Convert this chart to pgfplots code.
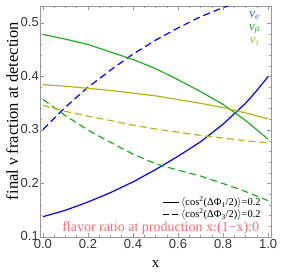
\documentclass[border=0pt]{standalone}
\usepackage{fontspec}
\setmainfont{Liberation Serif}
\newfontfamily\ticksf{Liberation Sans}
\usepackage{pgfplots}
\pgfplotsset{compat=1.18}
\definecolor{cblue}{rgb}{0,0,1}
\definecolor{cgreen}{rgb}{0.13,0.68,0.13}
\definecolor{cyel}{rgb}{0.72,0.70,0.10}
\definecolor{cred}{rgb}{1,0.42,0.42}
\definecolor{cframe}{gray}{0.6}
\definecolor{lblue}{rgb}{0.25,0.35,1}
\begin{document}
\begin{tikzpicture}
\useasboundingbox (-40pt,-41pt) rectangle (246pt,237pt);
\begin{axis}[
  at={(0,0)}, anchor=south west,
  scale only axis, width=231pt, height=231pt,
  xmin=-0.013, xmax=1.013, ymin=0.1, ymax=0.532,
  axis line style={cframe, line width=0.6pt},
  every tick/.style={cframe, line width=0.5pt},
  tick align=inside,
  major tick length=4pt, minor tick length=2pt,
  xtick={0,0.2,0.4,0.6,0.8,1},
  xticklabels={0.0,0.2,0.4,0.6,0.8,1.0},
  minor x tick num=3,
  ytick={0.1,0.2,0.3,0.4,0.5},
  yticklabels={0.1,0.2,0.3,0.4,0.5},
  minor y tick num=4,
  /pgf/number format/assume math mode=true,
  ticklabel style={font=\ticksf\fontsize{13}{13}\selectfont, text=black!80},
  yticklabel style={inner sep=0.5pt, xshift=-0.5pt, yshift=1pt},
  xticklabel style={inner sep=0.5pt, yshift=-2pt},
  xlabel={x},
  ylabel={final ν fraction at detection},
  xlabel style={font=\fontsize{15}{15}\selectfont, at={(axis description cs:0.5,-0.117)}, anchor=center},
  ylabel style={font=\fontsize{16.5}{16.5}\selectfont, at={(axis description cs:-0.121,0.545)}, anchor=center},
  clip=true,
  legend style={at={(axis description cs:0.965,0.125)}, anchor=east, draw=none, fill=none,
    font=\fontsize{10.5}{10.5}\selectfont, inner sep=0pt, row sep=-2.5pt},
  legend cell align=left,
  legend image code/.code={\draw[#1, line width=1pt] (0cm,0cm) -- (0.55cm,0cm);},
]
% nu_e solid
\addplot[cblue, line width=1.2pt, forget plot] coordinates {
(0,0.138) (0.1,0.150) (0.2,0.1655) (0.3,0.183) (0.4,0.203) (0.5,0.226) (0.6,0.251)
(0.7,0.278) (0.8,0.311) (0.9,0.350) (0.95,0.374) (1.0,0.400)};
% nu_e dashed
\addplot[cblue, line width=1.2pt, dash pattern=on 7pt off 4pt, forget plot] coordinates {
(0,0.301) (0.1,0.343) (0.2,0.380) (0.3,0.412) (0.4,0.442) (0.5,0.468) (0.6,0.491)
(0.7,0.512) (0.8,0.529) (0.86,0.538)};
% nu_mu solid
\addplot[cgreen, line width=1.2pt, forget plot] coordinates {
(0,0.479) (0.1,0.470) (0.2,0.460) (0.3,0.446) (0.4,0.432) (0.5,0.415) (0.6,0.394)
(0.7,0.372) (0.8,0.348) (0.9,0.318) (1.0,0.283)};
% nu_mu dashed
\addplot[cgreen, line width=1.2pt, dash pattern=on 7pt off 4pt, forget plot] coordinates {
(0,0.357) (0.1,0.327) (0.2,0.300) (0.3,0.277) (0.4,0.255) (0.5,0.237) (0.6,0.225)
(0.7,0.214) (0.8,0.200) (0.9,0.185) (1.0,0.168)};
% nu_tau solid
\addplot[cyel, line width=1.2pt, forget plot] coordinates {
(0,0.385) (0.1,0.382) (0.2,0.378) (0.3,0.374) (0.4,0.369) (0.5,0.364) (0.6,0.357)
(0.7,0.350) (0.8,0.342) (0.9,0.332) (1.0,0.321)};
% nu_tau dashed
\addplot[cyel, line width=1.2pt, dash pattern=on 7pt off 4pt, forget plot] coordinates {
(0,0.346) (0.1,0.335) (0.2,0.326) (0.3,0.318) (0.4,0.309) (0.5,0.302) (0.6,0.296)
(0.7,0.290) (0.8,0.285) (0.9,0.280) (1.0,0.276)};
\addlegendimage{black, solid}
\addlegendentry{$\langle$cos\textsuperscript{2}(ΔΦ\textsubscript{1}/2)$\rangle$=0.2}
\addlegendimage{black, dash pattern=on 6pt off 3pt}
\addlegendentry{$\langle$cos\textsuperscript{2}(ΔΦ\textsubscript{3}/2)$\rangle$=0.2}
\node[inner sep=0pt, text=lblue, font=\fontsize{13}{13}\selectfont\itshape] at (axis cs:0.94,0.514) {ν\textsubscript{e}};
\node[inner sep=0pt, text=cgreen, font=\fontsize{13}{13}\selectfont\itshape] at (axis cs:0.94,0.489) {ν\textsubscript{μ}};
\node[inner sep=0pt, text=cyel, font=\fontsize{13}{13}\selectfont\itshape] at (axis cs:0.94,0.465) {ν\textsubscript{τ}};
\node[inner sep=0pt, text=cred, font=\fontsize{14}{14}\selectfont] at (axis cs:0.523,0.117) {flavor ratio at production x:(1−x):0};
\end{axis}
\end{tikzpicture}
\end{document}
